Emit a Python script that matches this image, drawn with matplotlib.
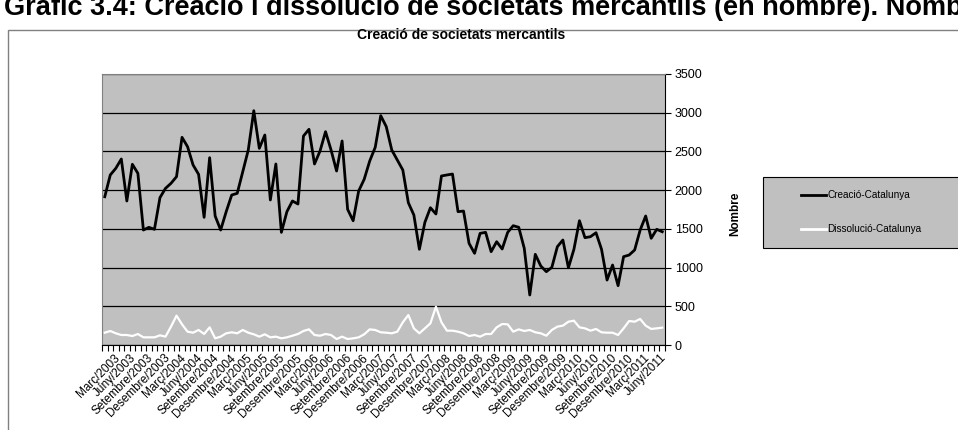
import numpy as np
import matplotlib
matplotlib.use('Agg')
from matplotlib import pyplot as plt
from matplotlib.patches import Rectangle
from matplotlib.lines import Line2D
from matplotlib.transforms import ScaledTranslation

plt.rcParams['font.family'] = ['Liberation Sans', 'DejaVu Sans']

months = ['Gener', 'Febrer', 'Març', 'Abril', 'Maig', 'Juny', 'Juliol', 'Agost',
          'Setembre', 'Octubre', 'Novembre', 'Desembre']

# monthly series, Març/2003 .. Agost/2011
creacio = [1915, 2196, 2282, 2402, 1860, 2334, 2217, 1485, 1520, 1494,
           1903, 2023, 2088, 2174, 2682, 2561, 2325, 2204, 1649, 2419,
           1666, 1485, 1722, 1937, 1959, 2238, 2518, 3026, 2540, 2712,
           1873, 2338, 1455, 1722, 1860, 1821, 2699, 2786, 2338, 2505,
           2755, 2518, 2247, 2635, 1752, 1605, 1989, 2140, 2376, 2553,
           2962, 2820, 2518, 2389, 2260, 1838, 1679, 1236, 1585, 1773,
           1692, 2183, 2196, 2208, 1722, 1730, 1313, 1184, 1442, 1455,
           1205, 1334, 1240, 1455, 1541, 1520, 1249, 646, 1171, 1020,
           947, 1003, 1270, 1356, 998, 1236, 1605, 1386, 1399, 1450,
           1236, 839, 1033, 766, 1141, 1162, 1227, 1485, 1666, 1378,
           1494, 1463]
dissolucio = [159, 181, 151, 129, 129, 116, 142, 99, 99, 99,
              125, 108, 237, 379, 267, 172, 159, 194, 142, 228,
              86, 108, 151, 164, 151, 194, 159, 138, 108, 138,
              99, 108, 86, 99, 120, 142, 181, 202, 129, 120,
              142, 129, 77, 108, 77, 86, 99, 138, 202, 194,
              164, 159, 151, 172, 293, 387, 215, 151, 215, 280,
              495, 293, 185, 185, 172, 151, 116, 129, 108, 142,
              142, 228, 271, 267, 172, 202, 181, 194, 164, 151,
              120, 194, 237, 250, 301, 314, 228, 215, 185, 207,
              164, 159, 159, 129, 215, 310, 301, 336, 250, 207,
              215, 224]

periods = ['%s/%d' % (months[(2 + i) % 12], 2003 + (2 + i) // 12)
           for i in range(len(creacio))]
series_names = ['Creació-Catalunya', 'Dissolució-Catalunya']

W, H = 958, 430
fig = plt.figure(figsize=(W / 100, H / 100), dpi=100)

# page title, cut off at the top edge as in the source page
fig.text(4 / W, 1 - 15 / H,
         'Gràfic 3.4: Creació i dissolució de societats mercantils (en nombre). Nombre',
         fontsize=19.5, fontweight='bold', va='baseline', ha='left')

# chart area border
fig.patches.append(Rectangle((8 / W, -0.05), 1.2, 1 - 30 / H + 0.05,
                             transform=fig.transFigure, fill=False,
                             edgecolor='#808080', lw=1))

fig.text(461 / W, 1 - 35 / H, 'Creació de societats mercantils',
         fontsize=10, fontweight='bold', ha='center', va='center')

ax = fig.add_axes([102 / W, (H - 345) / H, (665 - 102) / W, (345 - 74) / H])
ax.set_facecolor('#C0C0C0')
x = np.arange(len(creacio))
ax.plot(x, creacio, color='black', lw=2.0)
ax.plot(x, dissolucio, color='white', lw=1.6)

ax.set_xlim(-0.5, len(creacio) - 0.5)
ax.set_ylim(0, 3500)
ax.set_yticks(np.arange(0, 3501, 500))
ax.grid(axis='y', color='black', lw=0.9)
ax.set_axisbelow(True)

ax.yaxis.tick_right()
ax.tick_params(axis='y', direction='out', length=4, width=0.8, pad=3,
               labelsize=9, colors='black')

ax.set_xticks(x[::3])
ax.set_xticks(np.arange(-0.5, len(creacio)), minor=True)
ax.tick_params(axis='x', which='major', length=0, pad=5)
ax.tick_params(axis='x', which='minor', direction='out', length=4, width=0.8)
ax.set_xticklabels(periods[::3], rotation=45, ha='right', va='top',
                   rotation_mode='anchor', fontsize=8.5)
# push the slanted labels right, like the original
shift = ScaledTranslation(9 / 100, 0, fig.dpi_scale_trans)
for lab in ax.get_xticklabels():
    lab.set_transform(lab.get_transform() + shift)

for side in ['top', 'left']:
    ax.spines[side].set_color('#808080')
for side in ['bottom', 'right']:
    ax.spines[side].set_color('black')

fig.text(735 / W, 1 - 214 / H, 'Nombre', rotation=90, fontsize=8.5,
         fontweight='bold', ha='center', va='center')

# legend box
fig.patches.append(Rectangle((763 / W, 1 - 248 / H), 200 / W, 71 / H,
                             transform=fig.transFigure, facecolor='#C0C0C0',
                             edgecolor='black', lw=0.8))
for name, col, yy in zip(series_names, ['black', 'white'], [195, 229]):
    fig.lines.append(Line2D([801 / W, 826 / W], [1 - yy / H, 1 - yy / H],
                            transform=fig.transFigure, color=col, lw=2.0))
    fig.text(827 / W, 1 - yy / H, name, fontsize=7.2, va='center', ha='left')

fig.savefig('out.png', dpi=100)
